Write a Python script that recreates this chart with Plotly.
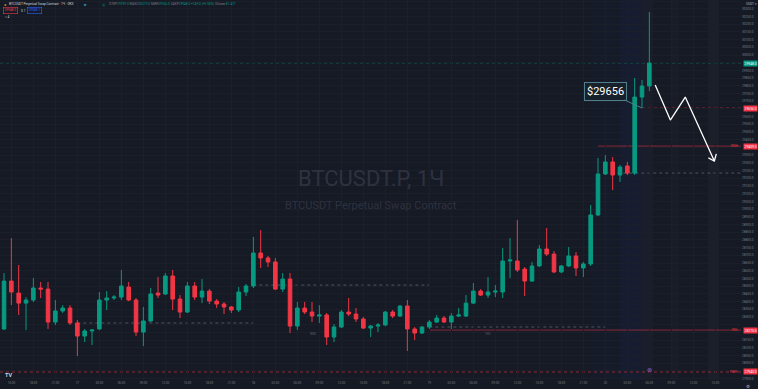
import plotly.graph_objects as go
import pandas as pd

# ---------------- data ----------------
start_time = "2023-04-16 14:00"

opens = [28222, 28533, 28455, 28390, 28410, 28488, 28481, 28267, 28339, 28358,
         28261, 28176, 28209, 28222, 28410, 28423, 28429, 28494, 28410, 28202,
         28274, 28455, 28449, 28566, 28416, 28332, 28501, 28429, 28468, 28403,
         28384, 28365, 28345, 28462, 28501, 28715, 28683, 28657, 28481, 28546,
         28241, 28358, 28332, 28306, 28313, 28170, 28235, 28332, 28319, 28287,
         28228, 28241, 28248, 28332, 28306, 28371, 28222, 28196, 28235, 28267,
         28293, 28267, 28306, 28306, 28390, 28468, 28442, 28462, 28462, 28663,
         28663, 28611, 28533, 28631, 28741, 28708, 28592, 28631, 28696, 28618,
         28644, 28962, 29228, 29306, 29221, 29280, 29234, 29727, 29799]
highs = [28585, 28812, 28637, 28429, 28553, 28527, 28527, 28410, 28377, 28377,
         28280, 28222, 28222, 28462, 28468, 28442, 28605, 28527, 28423, 28365,
         28488, 28559, 28585, 28605, 28442, 28527, 28527, 28546, 28481, 28416,
         28397, 28371, 28494, 28514, 28819, 28864, 28696, 28683, 28585, 28585,
         28397, 28397, 28397, 28377, 28326, 28254, 28345, 28423, 28358, 28300,
         28248, 28261, 28339, 28345, 28377, 28410, 28235, 28241, 28280, 28313,
         28306, 28326, 28358, 28442, 28520, 28481, 28559, 28507, 28747, 28812,
         28929, 28624, 28657, 28767, 28877, 28728, 28637, 28754, 28721, 28657,
         29027, 29332, 29351, 29338, 29286, 29306, 29851, 29838, 30279]
lows = [28215, 28377, 28313, 28215, 28397, 28423, 28222, 28248, 28326, 28248,
        28047, 28137, 28118, 28215, 28345, 28410, 28410, 28403, 28176, 28111,
        28267, 28423, 28442, 28345, 28293, 28326, 28410, 28390, 28384, 28358,
        28319, 28326, 28332, 28436, 28488, 28618, 28624, 28475, 28462, 28196,
        28215, 28319, 28267, 28261, 28118, 28137, 28228, 28306, 28267, 28222,
        28170, 28202, 28241, 28293, 28300, 28079, 28150, 28189, 28222, 28261,
        28261, 28222, 28300, 28300, 28384, 28436, 28423, 28429, 28423, 28553,
        28592, 28436, 28527, 28624, 28696, 28585, 28585, 28624, 28566, 28559,
        28631, 28955, 29221, 29124, 29176, 29221, 29221, 29656, 29766]
closes = [28533, 28462, 28390, 28410, 28488, 28481, 28267, 28339, 28358, 28261,
          28176, 28209, 28215, 28410, 28423, 28429, 28501, 28410, 28202, 28274,
          28449, 28442, 28566, 28416, 28332, 28501, 28429, 28468, 28403, 28384,
          28365, 28345, 28462, 28501, 28715, 28683, 28657, 28481, 28546, 28241,
          28358, 28332, 28306, 28313, 28170, 28235, 28332, 28319, 28287, 28228,
          28241, 28248, 28332, 28306, 28371, 28222, 28196, 28235, 28267, 28293,
          28267, 28306, 28313, 28390, 28468, 28442, 28462, 28468, 28663, 28670,
          28605, 28533, 28631, 28741, 28708, 28592, 28631, 28696, 28618, 28644,
          28962, 29228, 29306, 29221, 29273, 29234, 29727, 29799, 29948]

callout_price = 29656
pdh_price = 29409
pdl_price = 28215
pwh_price = 27943
last_volume = "87.471"

# daily low/high dotted levels: (start, end, price)
day_levels = [("2023-04-17 00:00", "2023-04-18 00:00", 28261),
              ("2023-04-18 00:00", "2023-04-19 00:00", 28507),
              ("2023-04-19 00:00", "2023-04-20 00:00", 28235),
              ("2023-04-20 00:00", None, 29234)]

# hand-drawn arrow (time, price)
arrow_t = ["2023-04-20 06:48", "2023-04-20 08:52", "2023-04-20 10:54", "2023-04-20 14:52"]
arrow_p = [29805, 29578, 29727, 29312]
arrowhead_t = ["2023-04-20 14:03", "2023-04-20 14:52", "2023-04-20 15:08"]
arrowhead_p = [29332, 29312, 29358]

callout_time = "2023-04-20 05:00"

bands = [("2023-04-19 22:00", "2023-04-20 02:00", "rgba(41,98,255,0.025)"),
         ("2023-04-20 02:00", "2023-04-20 05:00", "rgba(41,98,255,0.05)"),
         ("2023-04-20 05:00", "2023-04-20 06:30", "rgba(120,123,134,0.05)"),
         ("2023-04-20 09:00", "2023-04-20 10:00", "rgba(120,123,134,0.04)"),
         ("2023-04-20 14:00", "2023-04-20 15:30", "rgba(120,123,134,0.06)")]

# ---------------- figure ----------------
BG = "#161a25"
UP = "#089981"
DN = "#f23645"
TXT = "#787b86"
FONT = "Roboto"

times = pd.date_range(start_time, periods=len(opens), freq="h")
t0 = times[0]
x_left = t0 - pd.Timedelta(hours=0.55)
x_right = t0 + pd.Timedelta(hours=100.5)
y_range = [27891, 30357]

fig = go.Figure()

fig.add_trace(go.Candlestick(
    x=times, open=opens, high=highs, low=lows, close=closes,
    increasing=dict(line=dict(color=UP, width=1), fillcolor=UP),
    decreasing=dict(line=dict(color=DN, width=1), fillcolor=DN),
    whiskerwidth=0, hoverinfo="skip", showlegend=False))

# drawn arrow
fig.add_trace(go.Scatter(x=pd.to_datetime(arrow_t), y=arrow_p, mode="lines",
                         line=dict(color="#ffffff", width=1.3), showlegend=False, hoverinfo="skip"))
fig.add_trace(go.Scatter(x=pd.to_datetime(arrowhead_t), y=arrowhead_p, mode="lines",
                         line=dict(color="#ffffff", width=1.3), showlegend=False, hoverinfo="skip"))

shapes = []
for a, b, c in bands:
    shapes.append(dict(type="rect", xref="x", yref="paper", x0=a, x1=b, y0=0, y1=1,
                       fillcolor=c, line=dict(width=0), layer="below"))
for d in ["2023-04-17", "2023-04-18", "2023-04-19", "2023-04-20"]:
    shapes.append(dict(type="line", xref="x", yref="paper", x0=d, x1=d, y0=0, y1=1,
                       line=dict(color="#232733", width=1), layer="below"))
shapes.append(dict(type="line", xref="paper", yref="y", x0=0, x1=1, y0=closes[-1], y1=closes[-1],
                   line=dict(color=UP, width=1, dash="dot"), opacity=0.5, layer="below"))
shapes.append(dict(type="line", xref="paper", yref="y", x0=0, x1=1, y0=pwh_price, y1=pwh_price,
                   line=dict(color=DN, width=1, dash="dot"), opacity=0.55, layer="below"))
for a, b, p in day_levels:
    x1 = b if b is not None else x_right
    shapes.append(dict(type="line", xref="x", yref="y", x0=a, x1=x1, y0=p, y1=p,
                       line=dict(color="#6a6e79", width=1, dash="dot"), opacity=0.7, layer="below"))
shapes.append(dict(type="line", xref="x", yref="y", x0="2023-04-19 23:00", x1=x_right, y0=pdh_price, y1=pdh_price,
                   line=dict(color=DN, width=1), opacity=0.5, layer="below"))
shapes.append(dict(type="line", xref="x", yref="y", x0="2023-04-19 00:00", x1=x_right, y0=pdl_price, y1=pdl_price,
                   line=dict(color=DN, width=1), opacity=0.5, layer="below"))
shapes.append(dict(type="line", xref="x", yref="y", x0=callout_time, x1=x_right, y0=callout_price, y1=callout_price,
                   line=dict(color=DN, width=1, dash="dot"), opacity=0.55, layer="below"))

ann = []
ann.append(dict(xref="paper", yref="paper", x=0.5, y=1 - 178 / 380, text="BTCUSDT.P, 1Ч",
                showarrow=False, font=dict(family=FONT, size=22, color="#2e3240"), yanchor="middle"))
ann.append(dict(xref="paper", yref="paper", x=0.5, y=1 - 205 / 380, text="BTCUSDT Perpetual Swap Contract",
                showarrow=False, font=dict(family=FONT, size=11, color="#2e3240"), yanchor="middle"))

ann.append(dict(x=callout_time, y=callout_price, xref="x", yref="y", text="$" + str(callout_price),
                showarrow=True, arrowhead=0, arrowwidth=1, arrowcolor="#4f7f8c", ax=-37, ay=-17,
                font=dict(family=FONT, size=11, color="#ffffff"), bgcolor="#17212c",
                bordercolor="#4f7f8c", borderwidth=1, borderpad=2))

tag_prices = []

def tag(price, color):
    tag_prices.append(price)
    ann.append(dict(xref="paper", yref="y", x=1, y=price, xanchor="left", xshift=2,
                    text=f"{price:.1f}", showarrow=False, bgcolor=color, borderpad=0.6,
                    font=dict(family=FONT, size=3.3, color="#ffffff")))

def name(price, label):
    ann.append(dict(xref="paper", yref="y", x=1, y=price, xanchor="right", xshift=-1,
                    text=label, showarrow=False, font=dict(family=FONT, size=3.3, color=DN)))

tag(closes[-1], UP)
tag(callout_price, DN)
tag(pdh_price, DN)
tag(pdl_price, DN)
tag(pwh_price, DN)
name(pdh_price, "PDH")
name(pdl_price, "PDL")
name(pwh_price, "PWH")

W, H = 741.0, 380.0
def ptxt(px, py, text, color="#d1d4dc", size=3.2, **kw):
    d = dict(xref="paper", yref="paper", x=px / W, y=1 - py / H, text=text, showarrow=False,
             xanchor="left", yanchor="middle", font=dict(family=FONT, size=size, color=color))
    d.update(kw)
    ann.append(d)

chg = closes[-1] - closes[-2]
pct = chg / closes[-2] * 100
ptxt(2, 4, "●", color="#f7931a", size=4)
ptxt(7, 4, "BTCUSDT Perpetual Swap Contract · 1Ч · OKX")
ptxt(82, 4, "■", color="#2a8fa8", size=4)
ptxt(100, 4, "◎", color=UP, size=4)
ptxt(107, 4, f"<span style='color:{TXT}'>ОТКР</span>{opens[-1]:.1f} "
             f"<span style='color:{TXT}'>МАКС</span>{highs[-1]:.1f} "
             f"<span style='color:{TXT}'>МИН</span>{lows[-1]:.1f} "
             f"<span style='color:{TXT}'>ЗАКР</span>{closes[-1]:.1f} "
             f"{chg:+.1f} ({pct:+.2f}%) <span style='color:{TXT}'>Объем</span> {last_volume}",
     color=UP, size=3.2)
ptxt(3, 10.5, f"{closes[-1]:.1f}", color=DN, size=3.2, bordercolor=DN, borderwidth=0.6, borderpad=0.8)
ptxt(19, 10.5, "0.1", color="#d1d4dc", size=3.2)
ptxt(27, 10.5, f"{closes[-1] + 0.1:.1f}", color="#2962ff", size=3.2, bordercolor="#2962ff", borderwidth=0.6, borderpad=0.8)
ptxt(3, 17, "˅ 4", color="#d1d4dc", size=3.2)

ptxt(308, 334, "WED", color="#5d606b", size=2.8)
ptxt(483, 334, "THU", color="#5d606b", size=2.8)
ptxt(3, 375, "<b>TV</b>", color="#d1d4dc", size=5.5)
ann.append(dict(xref="x", yref="paper", x=times[-1], y=1 - 375 / H, text="⊛", showarrow=False,
                font=dict(family="DejaVu Sans", size=6, color="#9c6ade")))
ann.append(dict(xref="paper", yref="paper", x=1, y=1, xanchor="left", yanchor="top", xshift=3,
                text="USDT ▾", showarrow=False, font=dict(family=FONT, size=3.2, color="#b2b5be")))
ann.append(dict(xref="paper", yref="paper", x=1, y=0, xanchor="left", yanchor="top", xshift=3, yshift=-2,
                text="⚙", showarrow=False, font=dict(family="DejaVu Sans", size=4.5, color="#b2b5be")))

# x ticks every 3 hours
tick_times = pd.date_range("2023-04-16 15:00", "2023-04-20 15:00", freq="3h")
tick_text = [str(t.day) if t.hour == 0 else t.strftime("%H:%M") for t in tick_times]
# y ticks every 50; labels hidden where a coloured price tag covers them
y_ticks = list(range(27900, 30401, 50))
px_per_price = 380.0 / (y_range[1] - y_range[0])
y_text = [("" if any(abs(v - p) * px_per_price < 5.5 for p in tag_prices) else f"{v:.1f}") for v in y_ticks]

fig.update_layout(
    width=758, height=389,
    margin=dict(l=0, r=17, t=0, b=9),
    paper_bgcolor=BG, plot_bgcolor=BG,
    shapes=shapes, annotations=ann,
    showlegend=False,
    xaxis=dict(type="date", range=[x_left, x_right], rangeslider=dict(visible=False),
               tickvals=tick_times, ticktext=tick_text, tickfont=dict(family=FONT, size=3, color=TXT),
               showgrid=True, gridcolor="#1b1f2a", gridwidth=1, zeroline=False, showline=False,
               ticks="", fixedrange=True),
    yaxis=dict(side="right", range=y_range, tickvals=y_ticks, ticktext=y_text,
               tickfont=dict(family=FONT, size=3.2, color=TXT),
               showgrid=True, gridcolor="#1b1f2a", gridwidth=1, zeroline=False, showline=False,
               ticks="", fixedrange=True),
    hovermode=False,
)

fig.write_html("out.html", config={"displayModeBar": False, "staticPlot": True})
